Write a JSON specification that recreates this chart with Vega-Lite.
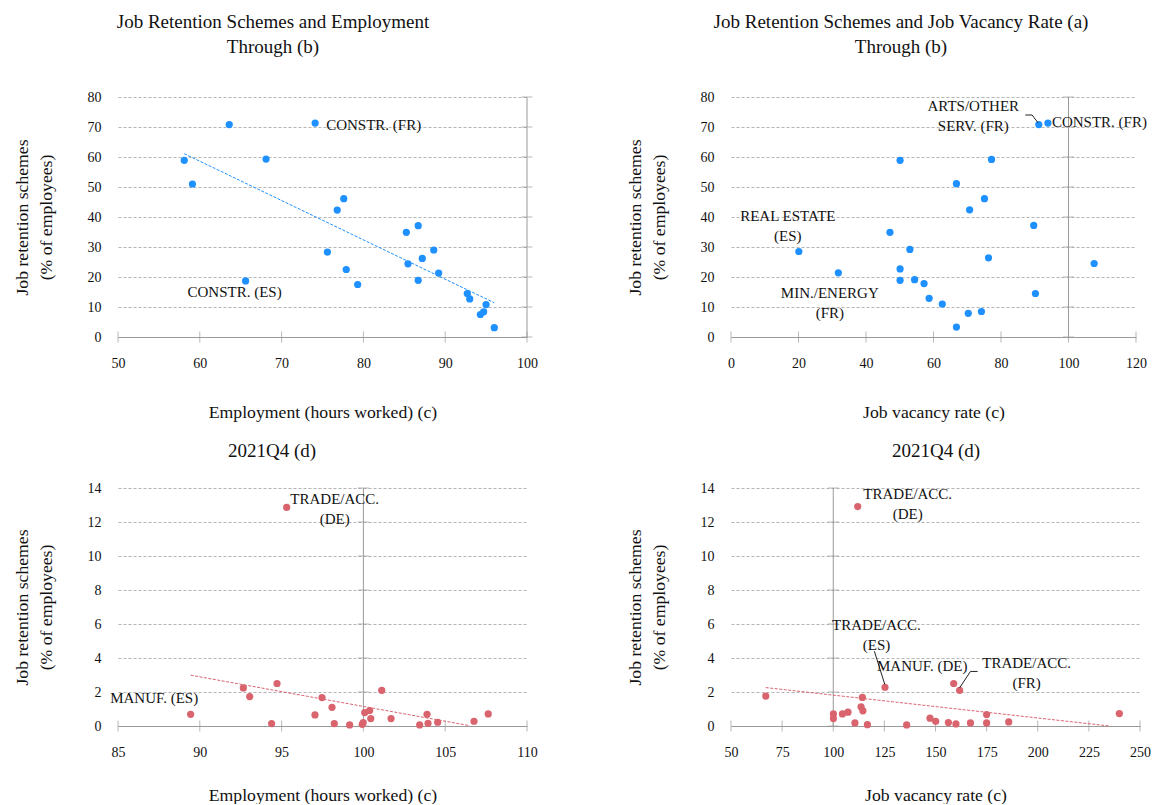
{
  "$schema": "https://vega.github.io/schema/vega-lite/v6.json",
  "padding": {"left": 13, "top": 13, "right": 0, "bottom": 0},
  "background": "white",
  "config": {
    "font": "Liberation Serif",
    "view": {"stroke": null},
    "title": {"font": "Liberation Serif", "fontSize": 19, "fontWeight": "normal", "color": "#111", "lineHeight": 25, "anchor": "middle", "frame": "group", "offset": 33},
    "axis": {"labelFont": "Liberation Serif", "titleFont": "Liberation Serif", "labelFontSize": 14, "labelColor": "#111", "titleFontSize": 17.7, "titleFontWeight": "normal", "titleColor": "#111", "ticks": false, "labelPadding": 17, "grid": false, "domain": false, "labelFlush": false, "labelOverlap": false, "titleLineHeight": 24},
    "axisX": {"domain": true, "domainColor": "#9a9a9a", "titlePadding": 33, "labelPadding": 19},
    "axisY": {"grid": true, "gridColor": "#b5b5b5", "gridDash": [3, 2], "titlePadding": 32},
    "text": {"font": "Liberation Serif", "fontSize": 15, "color": "#111", "baseline": "alphabetic", "lineBreak": "\n", "lineHeight": 20}
  },
  "datasets": {
    "p1": [
      {"x": 58.1, "y": 58.9}, {"x": 59.1, "y": 51.0}, {"x": 63.6, "y": 70.8}, {"x": 65.6, "y": 18.7, "label": "CONSTR. (ES)"},
      {"x": 68.1, "y": 59.3}, {"x": 74.1, "y": 71.3, "label": "CONSTR. (FR)"}, {"x": 75.6, "y": 28.3}, {"x": 76.8, "y": 42.3},
      {"x": 77.6, "y": 46.1}, {"x": 77.9, "y": 22.5}, {"x": 79.3, "y": 17.5}, {"x": 85.25, "y": 34.9},
      {"x": 85.45, "y": 24.4}, {"x": 86.7, "y": 37.1}, {"x": 86.7, "y": 18.9}, {"x": 87.2, "y": 26.2},
      {"x": 88.6, "y": 29.0}, {"x": 89.2, "y": 21.3}, {"x": 92.7, "y": 14.5}, {"x": 93.0, "y": 12.7},
      {"x": 95.0, "y": 10.8}, {"x": 94.3, "y": 7.5}, {"x": 94.7, "y": 8.4}, {"x": 96.0, "y": 3.1}
    ],
    "p2": [
      {"x": 20.1, "y": 28.5, "label": "REAL ESTATE\n(ES)"}, {"x": 31.8, "y": 21.4, "label": "MIN./ENERGY\n(FR)"}, {"x": 47.1, "y": 34.9}, {"x": 50.1, "y": 58.9},
      {"x": 50.1, "y": 22.7}, {"x": 50.1, "y": 18.9}, {"x": 53.0, "y": 29.2}, {"x": 54.4, "y": 19.1},
      {"x": 57.2, "y": 17.8}, {"x": 58.7, "y": 12.9}, {"x": 62.6, "y": 11.0}, {"x": 66.8, "y": 51.1},
      {"x": 66.8, "y": 3.3}, {"x": 70.3, "y": 7.9}, {"x": 70.7, "y": 42.4}, {"x": 74.2, "y": 8.5},
      {"x": 75.1, "y": 46.1}, {"x": 76.3, "y": 26.4}, {"x": 77.2, "y": 59.2}, {"x": 89.7, "y": 37.2},
      {"x": 90.2, "y": 14.5}, {"x": 91.2, "y": 70.8, "label": "ARTS/OTHER\nSERV. (FR)"}, {"x": 93.9, "y": 71.3, "label": "CONSTR. (FR)"}, {"x": 107.6, "y": 24.5}
    ],
    "p3": [
      {"x": 89.44, "y": 0.69, "label": "MANUF. (ES)"}, {"x": 92.66, "y": 2.24}, {"x": 93.05, "y": 1.73}, {"x": 94.39, "y": 0.14},
      {"x": 94.72, "y": 2.5}, {"x": 95.31, "y": 12.86, "label": "TRADE/ACC.\n(DE)"}, {"x": 97.04, "y": 0.65}, {"x": 97.47, "y": 1.67},
      {"x": 98.08, "y": 1.1}, {"x": 98.22, "y": 0.14}, {"x": 99.16, "y": 0.06}, {"x": 99.93, "y": 0.1},
      {"x": 99.99, "y": 0.2}, {"x": 100.08, "y": 0.79}, {"x": 100.38, "y": 0.91}, {"x": 100.45, "y": 0.44},
      {"x": 101.12, "y": 2.1}, {"x": 101.69, "y": 0.44}, {"x": 103.44, "y": 0.06}, {"x": 103.89, "y": 0.69},
      {"x": 103.95, "y": 0.16}, {"x": 104.54, "y": 0.22}, {"x": 106.76, "y": 0.28}, {"x": 107.63, "y": 0.71}
    ],
    "p4": [
      {"x": 67.0, "y": 1.76}, {"x": 100.07, "y": 0.71}, {"x": 100.07, "y": 0.44}, {"x": 104.5, "y": 0.71},
      {"x": 107.2, "y": 0.81}, {"x": 110.6, "y": 0.18}, {"x": 111.96, "y": 12.91, "label": "TRADE/ACC.\n(DE)"}, {"x": 113.6, "y": 1.13},
      {"x": 114.25, "y": 1.68}, {"x": 114.5, "y": 0.89}, {"x": 116.7, "y": 0.08}, {"x": 125.3, "y": 2.28, "label": "TRADE/ACC.\n(ES)"},
      {"x": 135.9, "y": 0.06}, {"x": 147.3, "y": 0.46}, {"x": 150.1, "y": 0.28}, {"x": 156.3, "y": 0.2},
      {"x": 158.9, "y": 2.5, "label": "MANUF. (DE)"}, {"x": 160.0, "y": 0.12}, {"x": 161.8, "y": 2.1, "label": "TRADE/ACC.\n(FR)"}, {"x": 167.1, "y": 0.18},
      {"x": 175.0, "y": 0.67}, {"x": 175.0, "y": 0.18}, {"x": 185.8, "y": 0.24}, {"x": 239.9, "y": 0.73}
    ],
    "t1": [{"x": 58.1, "y": 61.1}, {"x": 96.0, "y": 11.4}],
    "t3": [{"x": 89.44, "y": 2.99}, {"x": 106.5, "y": 0.02}],
    "t4": [{"x": 67.0, "y": 2.26}, {"x": 235.0, "y": 0.0}],
    "l2": [{"g": 1, "x": 87.2, "y": 74.0}, {"g": 1, "x": 89.2, "y": 74.0}, {"g": 1, "x": 91.0, "y": 71.4}],
    "l4": [
      {"g": 1, "x": 120.1, "y": 4.4}, {"g": 1, "x": 125.2, "y": 2.45},
      {"g": 2, "x": 161.8, "y": 2.25}, {"g": 2, "x": 167.1, "y": 3.21}, {"g": 2, "x": 170.6, "y": 3.21}
    ],
    "xt1": [{"x": 50}, {"x": 60}, {"x": 70}, {"x": 80}, {"x": 90}, {"x": 100}],
    "xt2": [{"x": 0}, {"x": 20}, {"x": 40}, {"x": 60}, {"x": 80}, {"x": 100}, {"x": 120}],
    "xt3": [{"x": 85}, {"x": 90}, {"x": 95}, {"x": 100}, {"x": 105}, {"x": 110}],
    "xt4": [{"x": 50}, {"x": 75}, {"x": 100}, {"x": 125}, {"x": 150}, {"x": 175}, {"x": 200}, {"x": 225}, {"x": 250}],
    "yt80": [{"y": 0}, {"y": 10}, {"y": 20}, {"y": 30}, {"y": 40}, {"y": 50}, {"y": 60}, {"y": 70}, {"y": 80}],
    "yt14": [{"y": 0}, {"y": 2}, {"y": 4}, {"y": 6}, {"y": 8}, {"y": 10}, {"y": 12}, {"y": 14}]
  },
  "columns": 2,
  "bounds": "flush",
  "spacing": {"row": 151, "column": 204},
  "concat": [
    {
      "width": 409, "height": 240,
      "title": {"text": ["Job Retention Schemes and Employment", "Through (b)"], "dx": -49.5},
      "layer": [
        {"data": {"values": [{}]}, "mark": {"type": "rule", "color": "#9a9a9a"}, "encoding": {
          "x": {"datum": 100, "type": "quantitative", "scale": {"domain": [50, 100], "nice": false, "zero": false}, "axis": {"title": "Employment (hours worked) (c)", "values": [50, 60, 70, 80, 90, 100]}},
          "y": {"datum": 0, "type": "quantitative", "scale": {"domain": [0, 80], "nice": false}, "axis": {"title": ["Job retention schemes", "(% of employees)"], "values": [0, 10, 20, 30, 40, 50, 60, 70, 80]}},
          "y2": {"datum": 80}}},
        {"data": {"name": "yt80"}, "mark": {"type": "tick", "orient": "horizontal", "size": 11, "thickness": 1, "color": "#9a9a9a"}, "encoding": {
          "x": {"datum": 100, "type": "quantitative", "scale": {"domain": [50, 100], "nice": false, "zero": false}, "axis": {"title": "Employment (hours worked) (c)", "values": [50, 60, 70, 80, 90, 100]}},
          "y": {"field": "y", "type": "quantitative", "scale": {"domain": [0, 80], "nice": false}, "axis": {"title": ["Job retention schemes", "(% of employees)"], "values": [0, 10, 20, 30, 40, 50, 60, 70, 80]}}}},
        {"data": {"name": "xt1"}, "mark": {"type": "tick", "orient": "vertical", "size": 11, "thickness": 1, "color": "#9a9a9a"}, "encoding": {
          "x": {"field": "x", "type": "quantitative", "scale": {"domain": [50, 100], "nice": false, "zero": false}, "axis": {"title": "Employment (hours worked) (c)", "values": [50, 60, 70, 80, 90, 100]}},
          "y": {"datum": 0, "type": "quantitative", "scale": {"domain": [0, 80], "nice": false}, "axis": {"title": ["Job retention schemes", "(% of employees)"], "values": [0, 10, 20, 30, 40, 50, 60, 70, 80]}}}},
        {
          "data": {"name": "p1"},
          "encoding": {
            "x": {"field": "x", "type": "quantitative", "scale": {"domain": [50, 100], "nice": false, "zero": false}, "axis": {"title": "Employment (hours worked) (c)", "values": [50, 60, 70, 80, 90, 100]}},
            "y": {"field": "y", "type": "quantitative", "scale": {"domain": [0, 80], "nice": false}, "axis": {"title": ["Job retention schemes", "(% of employees)"], "values": [0, 10, 20, 30, 40, 50, 60, 70, 80]}}
          },
          "layer": [
            {"data": {"name": "t1"}, "mark": {"type": "line", "color": "#1E90FF", "strokeWidth": 1, "strokeDash": [3, 1.5]}},
            {"mark": {"type": "circle", "size": 52, "color": "#1E90FF", "opacity": 1}},
            {"transform": [{"filter": {"field": "label", "equal": "CONSTR. (FR)"}}], "mark": {"type": "text", "align": "left", "dx": 11, "dy": 7}, "encoding": {"text": {"field": "label"}}},
            {"transform": [{"filter": {"field": "label", "equal": "CONSTR. (ES)"}}], "mark": {"type": "text", "align": "center", "dx": -11, "dy": 16}, "encoding": {"text": {"field": "label"}}}
          ]
        }
      ]
    },
    {
      "width": 405, "height": 240,
      "title": {"text": ["Job Retention Schemes and Job Vacancy Rate (a)", "Through (b)"], "dx": -32.5},
      "layer": [
        {"data": {"values": [{}]}, "mark": {"type": "rule", "color": "#9a9a9a"}, "encoding": {
          "x": {"datum": 100, "type": "quantitative", "scale": {"domain": [0, 120], "nice": false, "zero": false}, "axis": {"title": "Job vacancy rate (c)", "values": [0, 20, 40, 60, 80, 100, 120]}},
          "y": {"datum": 0, "type": "quantitative", "scale": {"domain": [0, 80], "nice": false}, "axis": {"title": ["Job retention schemes", "(% of employees)"], "values": [0, 10, 20, 30, 40, 50, 60, 70, 80]}},
          "y2": {"datum": 80}}},
        {"data": {"name": "yt80"}, "mark": {"type": "tick", "orient": "horizontal", "size": 11, "thickness": 1, "color": "#9a9a9a"}, "encoding": {
          "x": {"datum": 100, "type": "quantitative", "scale": {"domain": [0, 120], "nice": false, "zero": false}, "axis": {"title": "Job vacancy rate (c)", "values": [0, 20, 40, 60, 80, 100, 120]}},
          "y": {"field": "y", "type": "quantitative", "scale": {"domain": [0, 80], "nice": false}, "axis": {"title": ["Job retention schemes", "(% of employees)"], "values": [0, 10, 20, 30, 40, 50, 60, 70, 80]}}}},
        {"data": {"name": "xt2"}, "mark": {"type": "tick", "orient": "vertical", "size": 11, "thickness": 1, "color": "#9a9a9a"}, "encoding": {
          "x": {"field": "x", "type": "quantitative", "scale": {"domain": [0, 120], "nice": false, "zero": false}, "axis": {"title": "Job vacancy rate (c)", "values": [0, 20, 40, 60, 80, 100, 120]}},
          "y": {"datum": 0, "type": "quantitative", "scale": {"domain": [0, 80], "nice": false}, "axis": {"title": ["Job retention schemes", "(% of employees)"], "values": [0, 10, 20, 30, 40, 50, 60, 70, 80]}}}},
        {
          "data": {"name": "p2"},
          "encoding": {
            "x": {"field": "x", "type": "quantitative", "scale": {"domain": [0, 120], "nice": false, "zero": false}, "axis": {"title": "Job vacancy rate (c)", "values": [0, 20, 40, 60, 80, 100, 120]}},
            "y": {"field": "y", "type": "quantitative", "scale": {"domain": [0, 80], "nice": false}, "axis": {"title": ["Job retention schemes", "(% of employees)"], "values": [0, 10, 20, 30, 40, 50, 60, 70, 80]}}
          },
          "layer": [
            {"mark": {"type": "circle", "size": 52, "color": "#1E90FF", "opacity": 1}},
            {"data": {"name": "l2"}, "mark": {"type": "line", "color": "#222", "strokeWidth": 1}, "encoding": {"detail": {"field": "g"}}},
            {"transform": [{"filter": {"field": "label", "equal": "ARTS/OTHER\nSERV. (FR)"}}], "mark": {"type": "text", "align": "center", "dx": -65.5, "dy": -14}, "encoding": {"text": {"field": "label"}}},
            {"transform": [{"filter": {"field": "label", "equal": "CONSTR. (FR)"}}], "mark": {"type": "text", "align": "left", "dx": 4, "dy": 4}, "encoding": {"text": {"field": "label"}}},
            {"transform": [{"filter": {"field": "label", "equal": "REAL ESTATE\n(ES)"}}], "mark": {"type": "text", "align": "center", "dx": -11, "dy": -31}, "encoding": {"text": {"field": "label"}}},
            {"transform": [{"filter": {"field": "label", "equal": "MIN./ENERGY\n(FR)"}}], "mark": {"type": "text", "align": "center", "dx": -8.5, "dy": 25}, "encoding": {"text": {"field": "label"}}}
          ]
        }
      ]
    },
    {
      "width": 409, "height": 238,
      "title": {"text": "2021Q4 (d)", "dx": -50.5, "offset": 20},
      "layer": [
        {"data": {"values": [{}]}, "mark": {"type": "rule", "color": "#9a9a9a"}, "encoding": {
          "x": {"datum": 100, "type": "quantitative", "scale": {"domain": [85, 110], "nice": false, "zero": false}, "axis": {"title": "Employment (hours worked) (c)", "values": [85, 90, 95, 100, 105, 110], "titlePadding": 27}},
          "y": {"datum": 0, "type": "quantitative", "scale": {"domain": [0, 14], "nice": false}, "axis": {"title": ["Job retention schemes", "(% of employees)"], "values": [0, 2, 4, 6, 8, 10, 12, 14]}},
          "y2": {"datum": 14}}},
        {"data": {"name": "yt14"}, "mark": {"type": "tick", "orient": "horizontal", "size": 11, "thickness": 1, "color": "#9a9a9a"}, "encoding": {
          "x": {"datum": 100, "type": "quantitative", "scale": {"domain": [85, 110], "nice": false, "zero": false}, "axis": {"title": "Employment (hours worked) (c)", "values": [85, 90, 95, 100, 105, 110], "titlePadding": 27}},
          "y": {"field": "y", "type": "quantitative", "scale": {"domain": [0, 14], "nice": false}, "axis": {"title": ["Job retention schemes", "(% of employees)"], "values": [0, 2, 4, 6, 8, 10, 12, 14]}}}},
        {"data": {"name": "xt3"}, "mark": {"type": "tick", "orient": "vertical", "size": 11, "thickness": 1, "color": "#9a9a9a"}, "encoding": {
          "x": {"field": "x", "type": "quantitative", "scale": {"domain": [85, 110], "nice": false, "zero": false}, "axis": {"title": "Employment (hours worked) (c)", "values": [85, 90, 95, 100, 105, 110], "titlePadding": 27}},
          "y": {"datum": 0, "type": "quantitative", "scale": {"domain": [0, 14], "nice": false}, "axis": {"title": ["Job retention schemes", "(% of employees)"], "values": [0, 2, 4, 6, 8, 10, 12, 14]}}}},
        {
          "data": {"name": "p3"},
          "encoding": {
            "x": {"field": "x", "type": "quantitative", "scale": {"domain": [85, 110], "nice": false, "zero": false}, "axis": {"title": "Employment (hours worked) (c)", "values": [85, 90, 95, 100, 105, 110], "titlePadding": 27}},
            "y": {"field": "y", "type": "quantitative", "scale": {"domain": [0, 14], "nice": false}, "axis": {"title": ["Job retention schemes", "(% of employees)"], "values": [0, 2, 4, 6, 8, 10, 12, 14]}}
          },
          "layer": [
            {"data": {"name": "t3"}, "mark": {"type": "line", "color": "#D9646E", "strokeWidth": 1, "strokeDash": [3, 1.5]}},
            {"mark": {"type": "circle", "size": 52, "color": "#D9646E", "opacity": 1}},
            {"transform": [{"filter": {"field": "label", "equal": "TRADE/ACC.\n(DE)"}}], "mark": {"type": "text", "align": "center", "dx": 48, "dy": -3}, "encoding": {"text": {"field": "label"}}},
            {"transform": [{"filter": {"field": "label", "equal": "MANUF. (ES)"}}], "mark": {"type": "text", "align": "center", "dx": -36.5, "dy": -11}, "encoding": {"text": {"field": "label"}}}
          ]
        }
      ]
    },
    {
      "width": 409, "height": 238,
      "title": {"text": "2021Q4 (d)", "dx": 0.5, "offset": 20},
      "layer": [
        {"data": {"values": [{}]}, "mark": {"type": "rule", "color": "#9a9a9a"}, "encoding": {
          "x": {"datum": 100, "type": "quantitative", "scale": {"domain": [50, 250], "nice": false, "zero": false}, "axis": {"title": "Job vacancy rate (c)", "values": [50, 75, 100, 125, 150, 175, 200, 225, 250], "titlePadding": 27}},
          "y": {"datum": 0, "type": "quantitative", "scale": {"domain": [0, 14], "nice": false}, "axis": {"title": ["Job retention schemes", "(% of employees)"], "values": [0, 2, 4, 6, 8, 10, 12, 14]}},
          "y2": {"datum": 14}}},
        {"data": {"name": "yt14"}, "mark": {"type": "tick", "orient": "horizontal", "size": 11, "thickness": 1, "color": "#9a9a9a"}, "encoding": {
          "x": {"datum": 100, "type": "quantitative", "scale": {"domain": [50, 250], "nice": false, "zero": false}, "axis": {"title": "Job vacancy rate (c)", "values": [50, 75, 100, 125, 150, 175, 200, 225, 250], "titlePadding": 27}},
          "y": {"field": "y", "type": "quantitative", "scale": {"domain": [0, 14], "nice": false}, "axis": {"title": ["Job retention schemes", "(% of employees)"], "values": [0, 2, 4, 6, 8, 10, 12, 14]}}}},
        {"data": {"name": "xt4"}, "mark": {"type": "tick", "orient": "vertical", "size": 11, "thickness": 1, "color": "#9a9a9a"}, "encoding": {
          "x": {"field": "x", "type": "quantitative", "scale": {"domain": [50, 250], "nice": false, "zero": false}, "axis": {"title": "Job vacancy rate (c)", "values": [50, 75, 100, 125, 150, 175, 200, 225, 250], "titlePadding": 27}},
          "y": {"datum": 0, "type": "quantitative", "scale": {"domain": [0, 14], "nice": false}, "axis": {"title": ["Job retention schemes", "(% of employees)"], "values": [0, 2, 4, 6, 8, 10, 12, 14]}}}},
        {
          "data": {"name": "p4"},
          "encoding": {
            "x": {"field": "x", "type": "quantitative", "scale": {"domain": [50, 250], "nice": false, "zero": false}, "axis": {"title": "Job vacancy rate (c)", "values": [50, 75, 100, 125, 150, 175, 200, 225, 250], "titlePadding": 27}},
            "y": {"field": "y", "type": "quantitative", "scale": {"domain": [0, 14], "nice": false}, "axis": {"title": ["Job retention schemes", "(% of employees)"], "values": [0, 2, 4, 6, 8, 10, 12, 14]}}
          },
          "layer": [
            {"data": {"name": "t4"}, "mark": {"type": "line", "color": "#D9646E", "strokeWidth": 1, "strokeDash": [3, 1.5]}},
            {"mark": {"type": "circle", "size": 52, "color": "#D9646E", "opacity": 1}},
            {"data": {"name": "l4"}, "mark": {"type": "line", "color": "#222", "strokeWidth": 1}, "encoding": {"detail": {"field": "g"}}},
            {"transform": [{"filter": {"field": "label", "equal": "TRADE/ACC.\n(DE)"}}], "mark": {"type": "text", "align": "center", "dx": 50, "dy": -8}, "encoding": {"text": {"field": "label"}}},
            {"transform": [{"filter": {"field": "label", "equal": "TRADE/ACC.\n(ES)"}}], "mark": {"type": "text", "align": "center", "dx": -8.5, "dy": -57}, "encoding": {"text": {"field": "label"}}},
            {"transform": [{"filter": {"field": "label", "equal": "MANUF. (DE)"}}], "mark": {"type": "text", "align": "center", "dx": -31.5, "dy": -12.5}, "encoding": {"text": {"field": "label"}}},
            {"transform": [{"filter": {"field": "label", "equal": "TRADE/ACC.\n(FR)"}}], "mark": {"type": "text", "align": "center", "dx": 67, "dy": -22}, "encoding": {"text": {"field": "label"}}}
          ]
        }
      ]
    }
  ]
}
